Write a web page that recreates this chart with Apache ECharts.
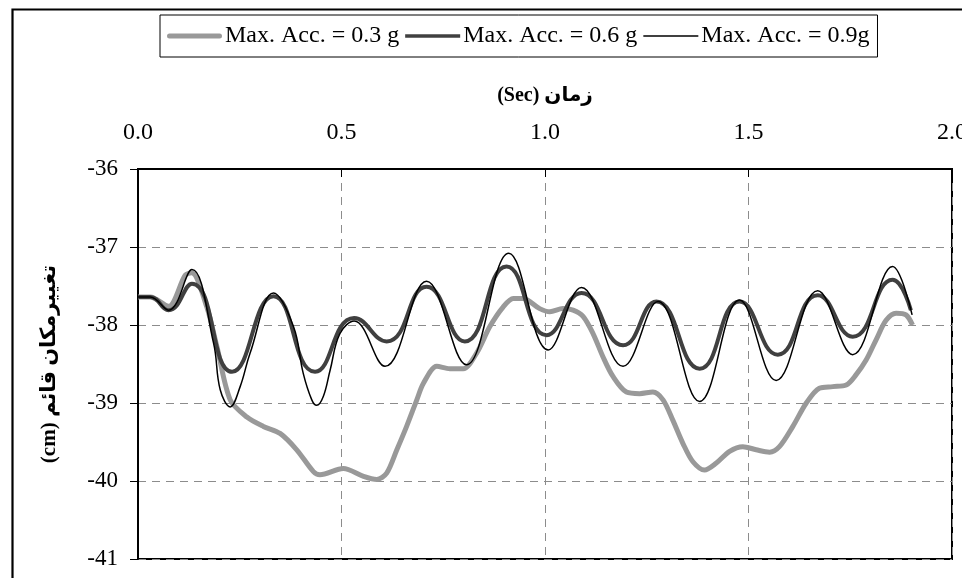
<!DOCTYPE html>
<html>
<head>
<meta charset="utf-8">
<script src="https://cdn.jsdelivr.net/npm/echarts@6/dist/echarts.min.js"></script>
<style>
html,body{margin:0;padding:0;background:#fff;}
#chart{width:962px;height:578px;}
</style>
</head>
<body>
<div id="chart"></div>
<script>
// ---- data (time in s, vertical displacement in cm) ----
var seriesNames = ['Max. Acc. = 0.3 g', 'Max. Acc. = 0.6 g', 'Max. Acc. = 0.9g'];
var xTicks = [0, 0.5, 1.0, 1.5, 2.0];
var yTicks = [-41, -40, -39, -38, -37, -36];

var acc03 = [
  [0, -37.64], [0.030, -37.64], [0.075, -37.76], [0.116, -37.36], [0.132, -37.33],
  [0.169, -37.77], [0.194, -38.28], [0.2265, -38.96], [0.2675, -39.18], [0.308, -39.30],
  [0.349, -39.39], [0.390, -39.60], [0.431, -39.88], [0.447, -39.92], [0.5045, -39.84],
  [0.554, -39.94], [0.5865, -39.98], [0.611, -39.90], [0.636, -39.60], [0.660, -39.30],
  [0.685, -38.96], [0.701, -38.75], [0.734, -38.53], [0.766, -38.56], [0.799, -38.56],
  [0.832, -38.36], [0.8645, -38.02], [0.897, -37.77], [0.922, -37.66], [0.946, -37.66],
  [0.987, -37.79], [1.012, -37.83], [1.044, -37.79], [1.069, -37.81], [1.0935, -37.89],
  [1.118, -38.11], [1.1426, -38.41], [1.167, -38.66], [1.200, -38.86], [1.2326, -38.88],
  [1.265, -38.86], [1.290, -38.96], [1.314, -39.22], [1.339, -39.52], [1.363, -39.75],
  [1.392, -39.86], [1.421, -39.77], [1.4535, -39.62], [1.486, -39.56], [1.519, -39.60],
  [1.5517, -39.63], [1.576, -39.56], [1.609, -39.30], [1.642, -39.00], [1.674, -38.81],
  [1.707, -38.79], [1.740, -38.77], [1.764, -38.64], [1.789, -38.45], [1.8135, -38.19],
  [1.838, -37.94], [1.8626, -37.85], [1.887, -37.87], [1.903, -38.00]
];

var acc06 = [
  [0, -37.64], [0.030, -37.64], [0.075, -37.81], [0.1325, -37.47], [0.231, -38.60],
  [0.333, -37.63], [0.435, -38.60], [0.531, -37.91], [0.611, -38.21], [0.709, -37.51],
  [0.803, -38.21], [0.9055, -37.25], [1.004, -38.13], [1.0896, -37.59], [1.1917, -38.26],
  [1.2736, -37.70], [1.380, -38.56], [1.478, -37.70], [1.572, -38.38], [1.670, -37.62],
  [1.756, -38.15], [1.854, -37.42], [1.899, -37.81]
];

var acc09 = [
  [0, -37.64], [0.030, -37.64], [0.075, -37.81], [0.1325, -37.29], [0.1855, -38.23],
  [0.202, -38.83], [0.2265, -39.05], [0.251, -38.79], [0.2755, -38.36],
  [0.333, -37.59], [0.382, -38.02], [0.406, -38.62], [0.427, -38.96], [0.439, -39.03],
  [0.455, -38.92], [0.472, -38.58], [0.496, -38.11],
  [0.531, -37.95], [0.607, -38.53], [0.709, -37.44],
  [0.807, -38.51], [0.911, -37.08], [1.008, -38.32], [1.0896, -37.52], [1.1917, -38.53],
  [1.2775, -37.70], [1.380, -38.98], [1.478, -37.68], [1.568, -38.71], [1.670, -37.56],
  [1.756, -38.38], [1.854, -37.25], [1.902, -37.87]
];

var SERIF = '"Liberation Serif", "Times New Roman", "DejaVu Sans", serif';

var chart = echarts.init(document.getElementById('chart'), null, {renderer: 'canvas'});
var option = {
  backgroundColor: '#fff',
  animation: false,
  graphic: [{
    type: 'rect',
    left: 10, top: 7,
    shape: {x: 0, y: 0, width: 1000, height: 700},
    style: {fill: 'none', stroke: '#000', lineWidth: 2.2},
    silent: true, z: -1
  }],
  legend: {
    data: [
      {name: seriesNames[0], icon: 'path://M2.5,0H52.5A2.5,2.5,0,0,1,52.5,5H2.5A2.5,2.5,0,0,1,2.5,0Z'},
      {name: seriesNames[1], icon: 'path://M0,0H55V3.5H0Z'},
      {name: seriesNames[2], icon: 'path://M0,0H55V1.3H0Z'}
    ],
    left: 160, top: 15,
    padding: [9, 8, 9, 7],
    itemGap: 6,
    itemWidth: 55,
    itemHeight: 14,
    symbolKeepAspect: true,
    backgroundColor: '#fff',
    borderColor: '#000',
    borderWidth: 1,
    borderRadius: 0,
    itemStyle: {borderWidth: 0},
    textStyle: {fontFamily: SERIF, fontSize: 24, color: '#000', padding: [0, 0, 0, -2]}
  },
  grid: {left: 138, right: 10, top: 169, bottom: 19, show: true, borderColor: '#000', borderWidth: 2,
         backgroundColor: 'transparent', outerBoundsMode: 'none', containLabel: false},
  xAxis: {
    type: 'value', position: 'top',
    min: xTicks[0], max: xTicks[xTicks.length - 1], interval: 0.5,
    name: '\u202Bزمان (Sec)\u202C', nameLocation: 'middle', nameGap: 63, nameMoveOverlap: false,
    nameTextStyle: {fontFamily: SERIF, fontSize: 20, fontWeight: 'bold', color: '#000'},
    axisLine: {show: true, lineStyle: {color: '#000', width: 2}},
    axisTick: {show: true, inside: true, length: 8, lineStyle: {color: '#000', width: 1}},
    axisLabel: {fontFamily: SERIF, fontSize: 24, color: '#000', margin: 24, formatter: function (v) { return v.toFixed(1); }},
    splitLine: {show: true, lineStyle: {color: '#8c8c8c', width: 1, type: [8, 6]}}
  },
  yAxis: {
    type: 'value',
    min: yTicks[0], max: yTicks[yTicks.length - 1], interval: 1,
    name: '\u202Bتغییرمکان قائم (cm)\u202C', nameLocation: 'middle', nameGap: 78, nameRotate: 90, nameMoveOverlap: false,
    nameTextStyle: {fontFamily: SERIF, fontSize: 21, fontWeight: 'bold', color: '#000'},
    axisLine: {show: true, lineStyle: {color: '#000', width: 2}},
    axisTick: {show: true, inside: false, length: 8, lineStyle: {color: '#000', width: 1}},
    axisLabel: {fontFamily: SERIF, fontSize: 23, color: '#000', margin: 20},
    splitLine: {show: true, lineStyle: {color: '#8c8c8c', width: 1, type: [8, 6]}}
  },
  series: [
    {name: seriesNames[0], type: 'line', data: acc03, symbol: 'none', smooth: 0.3, z: 2,
     lineStyle: {color: '#999999', width: 5}, itemStyle: {color: '#999999'}},
    {name: seriesNames[1], type: 'line', data: acc06, symbol: 'none', smooth: 0.5, z: 3,
     lineStyle: {color: '#404040', width: 4}, itemStyle: {color: '#404040'}},
    {name: seriesNames[2], type: 'line', data: acc09, symbol: 'none', smooth: 0.4, z: 4,
     lineStyle: {color: '#000000', width: 1.5}, itemStyle: {color: '#000000'}}
  ]
};
chart.setOption(option);
</script>
</body>
</html>
